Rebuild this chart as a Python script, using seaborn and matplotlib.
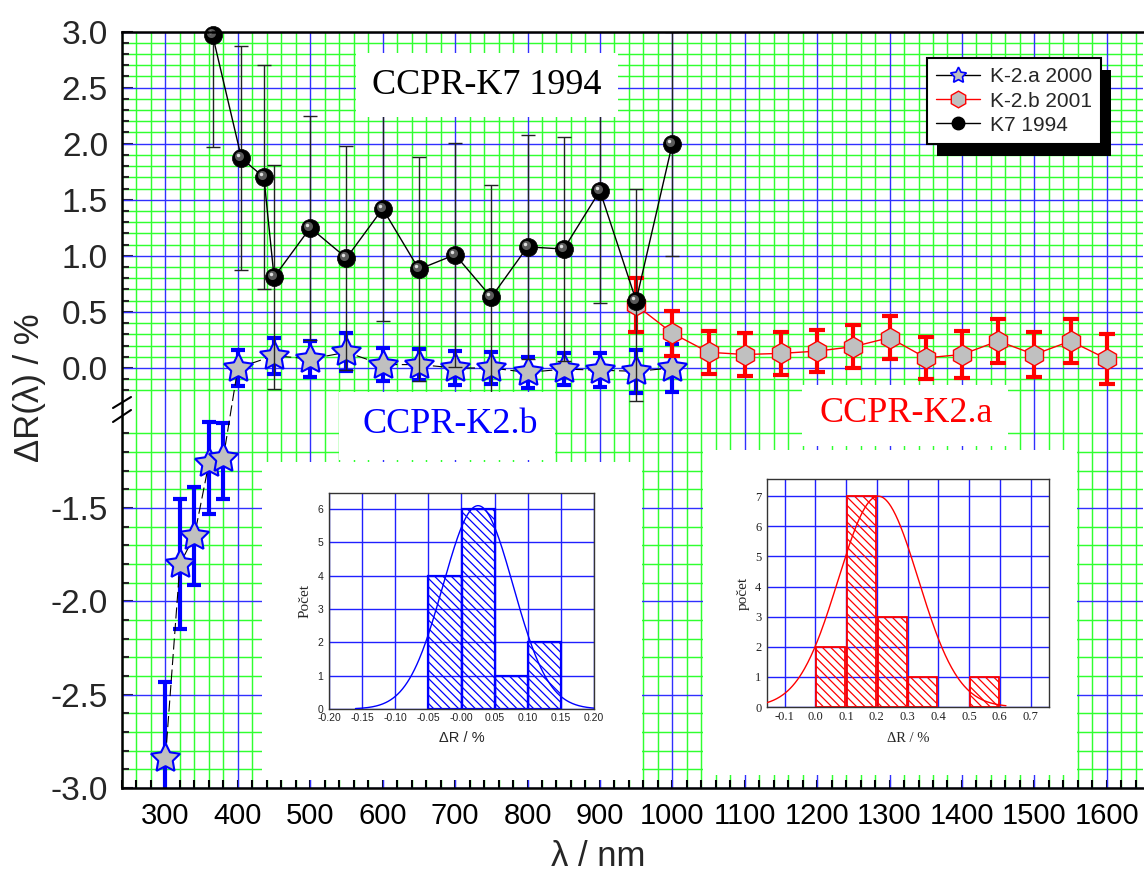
"""
Spectral reflectance comparison: CCPR-K7 1994 vs. CCPR-K2 bilateral results,
with histograms of the K2 deviations as insets.
"""
import numpy as np
import pandas as pd
import matplotlib
matplotlib.use("Agg")
import matplotlib.pyplot as plt
import seaborn as sns
from matplotlib.lines import Line2D
from matplotlib.patches import Rectangle
from matplotlib.ticker import FixedLocator, FormatStrFormatter, MultipleLocator
from matplotlib.transforms import offset_copy

# ---------------------------------------------------------------- data
k2a_wl = [300, 320, 340, 360, 380, 400, 450, 500, 550, 600, 650, 700, 750,
          800, 850, 900, 950, 1000]
k2a_dr = [-2.84, -1.80, -1.65, -1.26, -1.23, 0.00, 0.11, 0.08, 0.14, 0.03,
          0.03, 0.00, 0.00, -0.04, -0.01, -0.02, -0.03, 0.00]
k2a_err = [0.41, 0.35, 0.26, 0.27, 0.22, 0.16, 0.16, 0.16, 0.17, 0.15, 0.14,
           0.15, 0.14, 0.14, 0.14, 0.15, 0.19, 0.21]

k2b_wl = [950, 1000, 1050, 1100, 1150, 1200, 1250, 1300, 1350, 1400, 1450,
          1500, 1550, 1600]
k2b_dr = [0.56, 0.31, 0.14, 0.12, 0.13, 0.15, 0.19, 0.27, 0.09, 0.12, 0.24,
          0.12, 0.24, 0.08]
k2b_err = [0.24, 0.20, 0.19, 0.19, 0.19, 0.19, 0.19, 0.19, 0.19, 0.21, 0.20,
           0.20, 0.20, 0.22]

k7_wl = [365, 405, 436, 450, 500, 550, 600, 650, 700, 750, 800, 850, 900,
         950, 1000]
k7_dr = [2.97, 1.87, 1.70, 0.81, 1.25, 0.98, 1.42, 0.88, 1.01, 0.63, 1.08,
         1.06, 1.58, 0.60, 2.00]
k7_err = [1.0, 1.0, 1.0, 1.0, 1.0, 1.0, 1.0, 1.0, 1.0, 1.0, 1.0, 1.0, 1.0,
          1.0, 1.0]

# histogram bins of the insets
hist_a_bins = [-0.05, 0.0, 0.05, 0.10, 0.15]
hist_b_bins = [0.0, 0.1, 0.2, 0.3, 0.4, 0.5, 0.6]

# normal fits shown in the insets (centre, width, height, x-range)
fit_a = (0.025, 0.053, 6.1, -0.16, 0.20)
fit_b = (0.205, 0.130, 7.0, -0.157, 0.62)

series_labels = ["K-2.a 2000", "K-2.b 2001", "K7 1994"]

# ---------------------------------------------------------------- style
sns.set_theme(style="white")
plt.rcParams['font.family'] = ['Liberation Sans', 'DejaVu Sans']
plt.rcParams['hatch.linewidth'] = 0.9
plt.rcParams['axes.unicode_minus'] = False

W, H = 1144, 875
fig = plt.figure(figsize=(W / 100, H / 100), dpi=100)
fig.patch.set_facecolor('white')


def fx(px):
    return px / W


def fy(px):
    return 1 - px / H


# broken y axis: piecewise-linear scale (bottom part, break, top part)
Y_KNOTS = np.array([-3.0, -1.05, -0.25, 3.0])
H_KNOTS = np.array([0.0, 364.0, 392.0, 756.5])


def _piecewise(v, xs, ys):
    v = np.asarray(v, dtype=float)
    out = np.interp(v, xs, ys)
    s0 = (ys[1] - ys[0]) / (xs[1] - xs[0])
    s1 = (ys[-1] - ys[-2]) / (xs[-1] - xs[-2])
    out = np.where(v < xs[0], ys[0] + (v - xs[0]) * s0, out)
    out = np.where(v > xs[-1], ys[-1] + (v - xs[-1]) * s1, out)
    return out


def fwd(v):
    return _piecewise(v, Y_KNOTS, H_KNOTS)


def inv(v):
    return _piecewise(v, H_KNOTS, Y_KNOTS)


ax = fig.add_axes([fx(122), fy(788), fx(1143 - 122), 756.5 / H])
ax.set_yscale('function', functions=(fwd, inv))
ax.set_xlim(240, 1650)
ax.set_ylim(-3.0, 3.0)

# ticks and grid (green minor grid from the axis, blue major lines on top)
x_major = list(range(300, 1601, 100))
y_major = [-3.0, -2.5, -2.0, -1.5, 0.0, 0.5, 1.0, 1.5, 2.0, 2.5, 3.0]
y_minor = [v for v in np.round(np.concatenate([np.arange(-3.0, -1.05, 0.1),
                                              np.arange(-0.2, 3.01, 0.1)]), 2)
           if v not in y_major]
ax.xaxis.set_major_locator(FixedLocator(x_major))
ax.xaxis.set_minor_locator(MultipleLocator(20))
ax.yaxis.set_major_locator(FixedLocator(y_major))
ax.yaxis.set_minor_locator(FixedLocator(y_minor))
ax.yaxis.set_major_formatter(FormatStrFormatter('%.1f'))
ax.grid(which='minor', color='#30ff30', lw=1.05)
ax.set_axisbelow(True)
for xv in x_major:
    ax.axvline(xv, color='#3030ff', lw=1.0, zorder=0.7)
for yv in y_major:
    ax.axhline(yv, color='#3030ff', lw=1.0, zorder=0.7)
ax.tick_params(axis='x', which='both', direction='in', length=6, width=1.5,
               labelsize=21, pad=10, colors='black', bottom=True)
ax.tick_params(axis='y', which='major', direction='in', length=8, width=1.5,
               labelsize=24, pad=10, left=True)
ax.tick_params(axis='y', which='minor', direction='in', length=5, width=1.5,
               left=True)
for side in ['left', 'bottom', 'top']:
    ax.spines[side].set_color('black')
    ax.spines[side].set_linewidth(1.8)
    ax.spines[side].set_zorder(10)
ax.spines['right'].set_visible(False)

# K-2.a 2000 (blue stars)
ax.errorbar(k2a_wl, k2a_dr, yerr=k2a_err, fmt='none', ecolor='blue',
            elinewidth=3, capsize=5, capthick=3, zorder=2)
sns.lineplot(x=k2a_wl, y=k2a_dr, ax=ax, color='black', lw=0.8,
             linestyle=(0, (10, 4)), marker=(5, 1, 0), ms=22,
             mfc='#c0c0c0', mec='blue', mew=1.5, errorbar=None,
             sort=False, zorder=3, legend=False)

# K-2.b 2001 (red hexagons)
ax.errorbar(k2b_wl, k2b_dr, yerr=k2b_err, fmt='none', ecolor='red',
            elinewidth=3, capsize=5.5, capthick=3, zorder=4)
sns.lineplot(x=k2b_wl, y=k2b_dr, ax=ax, color='red', lw=1.0, marker='h',
             ms=15, mfc='#c0c0c0', mec='red', mew=1.0, errorbar=None,
             sort=False, zorder=5, legend=False)

# K7 1994 (black spheres)
ax.errorbar(k7_wl, k7_dr, yerr=k7_err, fmt='none', ecolor='#222222',
            elinewidth=1, capsize=5, capthick=1, zorder=6)
sns.lineplot(x=k7_wl, y=k7_dr, ax=ax, color='black', lw=1.0, marker='o',
             ms=13, mfc='black', mec='black', mew=0.5, errorbar=None,
             sort=False, zorder=7, legend=False, clip_on=False)
ax.plot(k7_wl, k7_dr, ls='none', marker='o', ms=6.5, mfc='#5a5a5a', mew=0,
        transform=offset_copy(ax.transData, fig, x=-2, y=2, units='dots'),
        zorder=8, clip_on=False)
ax.plot(k7_wl, k7_dr, ls='none', marker='o', ms=2.5, mfc='#e0e0e0', mew=0,
        transform=offset_copy(ax.transData, fig, x=-3, y=3, units='dots'),
        zorder=9, clip_on=False)

# axis break marks
for y0, y1 in [(408, 397), (422, 410)]:
    fig.add_artist(Line2D([fx(113), fx(131)], [fy(y0), fy(y1)],
                          color='black', lw=1.5, zorder=3))

# axis titles
fig.text(fx(30), fy(388), "ΔR(λ) / %", rotation=90, ha='center',
         va='center', fontsize=25)
fig.text(fx(598), fy(857), "λ / nm", ha='center', va='center', fontsize=25)

# white boxes covering the grid
boxes = [(356, 53, 618, 117), (339, 392, 555, 460), (802, 385, 1008, 446),
         (262, 462, 642, 780), (703, 450, 1077, 775)]
for x0, y0, x1, y1 in boxes:
    fig.add_artist(Rectangle((fx(x0), fy(y1)), fx(x1 - x0), (y1 - y0) / H,
                             transform=fig.transFigure, facecolor='white',
                             edgecolor='none', zorder=1))

serif = ['Liberation Serif', 'DejaVu Serif']
fig.text(fx(487), fy(86), "CCPR-K7 1994", ha='center', va='center',
         fontsize=26, family=serif, color='black', zorder=4)
fig.text(fx(450), fy(424), "CCPR-K2.b", ha='center', va='center',
         fontsize=26, family=serif, color='blue', zorder=4)
fig.text(fx(906), fy(413), "CCPR-K2.a", ha='center', va='center',
         fontsize=26, family=serif, color='red', zorder=4)

# legend with hard black shadow
handles = [
    Line2D([], [], color='black', lw=1, marker=(5, 1, 0), ms=12,
           mfc='#c0c0c0', mec='blue', mew=1.2),
    Line2D([], [], color='red', lw=1, marker='h', ms=12,
           mfc='#c0c0c0', mec='red', mew=1.0),
    Line2D([], [], color='black', lw=1, marker='o', ms=9,
           mfc='black', mec='black'),
]
leg = fig.legend(handles, series_labels, loc='upper left',
                 bbox_to_anchor=(fx(927), fy(58)), borderaxespad=0,
                 fontsize=15, frameon=True, fancybox=False, framealpha=1,
                 edgecolor='black', borderpad=0.45, labelspacing=0.25,
                 handlelength=2.1, handletextpad=0.45)
leg.get_frame().set_linewidth(1.5)
leg.set_zorder(6)

# ---------------------------------------------------------------- insets
df_a = pd.DataFrame({'wl': k2a_wl, 'dr': k2a_dr})
hist_a = df_a.loc[df_a['wl'] >= 400, 'dr']
hist_b = pd.Series(k2b_dr)


def style_inset(axi, color, xticks, xfmt, yticks, xlim, ylim, font, tfs,
                xlabel, ylabel, xlfont):
    for p in axi.patches:
        if p.get_height() == 0:
            p.set_visible(False)
        p.set_facecolor('none')
        p.set_edgecolor(color)
        p.set_hatch('\\\\\\\\')
    axi.set_xlim(*xlim)
    axi.set_ylim(*ylim)
    axi.set_xticks(xticks)
    axi.set_yticks(yticks)
    axi.xaxis.set_major_formatter(FormatStrFormatter(xfmt))
    axi.grid(True, color='#2020ff', lw=1.0)
    axi.set_axisbelow(True)
    axi.tick_params(axis='x', length=0, pad=3, labelsize=tfs, colors='#222222')
    axi.tick_params(axis='y', length=0, pad=4, labelsize=tfs, colors='#222222')
    for lab in axi.get_xticklabels() + axi.get_yticklabels():
        lab.set_family(font)
    for s in axi.spines.values():
        s.set_color('#333333')
        s.set_linewidth(1.0)
    axi.set_xlabel(xlabel, fontsize=10.5, family=xlfont, labelpad=6)
    axi.set_ylabel(ylabel, fontsize=11, family=serif, labelpad=4)


ax_a = fig.add_axes([fx(329), fy(709), fx(594 - 329), (709 - 493) / H])
ax_a.set_zorder(3)
ax_a.set_facecolor('white')
sns.histplot(x=hist_a, bins=hist_a_bins, ax=ax_a, color='blue',
             linewidth=1.6, legend=False)
xa = np.linspace(fit_a[3], fit_a[4], 300)
sns.lineplot(x=xa, y=fit_a[2] * np.exp(-0.5 * ((xa - fit_a[0]) / fit_a[1]) ** 2),
             ax=ax_a, color='blue', lw=1.0, zorder=5)
style_inset(ax_a, 'blue', np.arange(-0.20, 0.201, 0.05), '%.2f', range(0, 7),
            (-0.2, 0.2), (0, 6.48), ['Liberation Sans'], 7.5,
            "ΔR / %", "Počet", ['Liberation Sans'])

ax_b = fig.add_axes([fx(767), fy(707), fx(1049 - 767), (707 - 479) / H])
ax_b.set_zorder(3)
ax_b.set_facecolor('white')
sns.histplot(x=hist_b, bins=hist_b_bins, ax=ax_b, color='red', shrink=0.94,
             linewidth=1.3, legend=False)
xb = np.linspace(fit_b[3], fit_b[4], 300)
sns.lineplot(x=xb, y=fit_b[2] * np.exp(-0.5 * ((xb - fit_b[0]) / fit_b[1]) ** 2),
             ax=ax_b, color='red', lw=1.0, zorder=5)
style_inset(ax_b, 'red', np.arange(-0.1, 0.71, 0.1), '%.1f', range(0, 8),
            (-0.157, 0.76), (0, 7.57), serif, 9,
            "ΔR / %", "počet", serif)

# shadow behind legend (needs the drawn legend size)
fig.canvas.draw()
bb = leg.get_window_extent().transformed(fig.transFigure.inverted())
fig.add_artist(Rectangle((bb.x0 + fx(10), bb.y0 - 12 / H), bb.width,
                         bb.height, transform=fig.transFigure,
                         facecolor='black', edgecolor='none', zorder=5))

fig.savefig("out.png", dpi=100)
